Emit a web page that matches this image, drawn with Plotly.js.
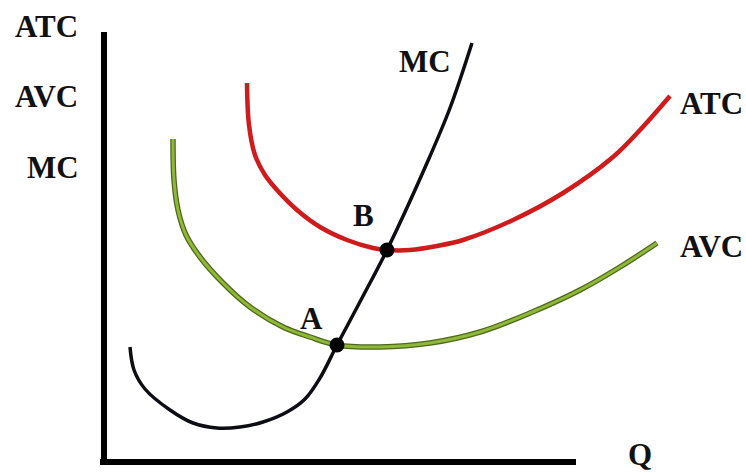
<!DOCTYPE html>
<html>
<head>
<meta charset="utf-8">
<script src="https://cdn.plot.ly/plotly-3.0.1.min.js"></script>
<style>html,body{margin:0;padding:0;background:#fff;}#chart{width:746px;height:474px;}</style>
</head>
<body>
<div id="chart"></div>
<script>
// Quantity (Q) and cost values (arbitrary units)
const mcQ   = [26, 30, 41, 66, 89, 113, 136, 159, 183, 201, 216, 233, 258, 283, 323, 346, 368];
const mcC   = [115, 92, 73, 52, 39, 34, 35, 40, 50, 63, 84, 117, 164, 212, 299, 354, 419];
const atcQ  = [143, 145, 151, 161, 173, 193, 216, 243, 269, 283, 306, 333, 359, 409, 459, 509, 536, 566];
const atcC  = [379, 337, 307, 287, 272, 252, 235, 222, 214, 212, 212, 216, 222, 242, 269, 305, 332, 366];
const avcQ  = [69, 70, 74, 82, 96, 119, 146, 179, 206, 233, 276, 326, 376, 426, 476, 516, 553];
const avcC  = [323, 282, 252, 227, 205, 179, 155, 135, 125, 117, 115, 119, 130, 149, 172, 195, 219];
const ptNames = ['A', 'B'];
const ptQ   = [233, 283];
const ptC   = [117, 212];
const axisLabels = ['ATC', 'AVC', 'MC'];
const curveLabels = ['MC', 'ATC', 'AVC'];
const xLabel = 'Q';

const font = {family: 'Liberation Serif, DejaVu Serif, serif', size: 31, color: '#111', weight: 'bold'};

const traces = [
  {x: avcQ, y: avcC, mode: 'lines', line: {color: '#4d6818', width: 5.5, shape: 'spline', smoothing: 1}, hoverinfo: 'skip'},
  {x: avcQ, y: avcC, mode: 'lines', line: {color: '#8fb83a', width: 3, shape: 'spline', smoothing: 1}, hoverinfo: 'skip'},
  {x: atcQ, y: atcC, mode: 'lines', line: {color: '#cf1b1b', width: 4.5, shape: 'spline', smoothing: 1}, hoverinfo: 'skip'},
  {x: mcQ, y: mcC, mode: 'lines', line: {color: '#0d0d14', width: 3.5, shape: 'spline', smoothing: 1}, hoverinfo: 'skip'},
  {x: ptQ, y: ptC, mode: 'markers', marker: {color: '#000', size: 15}, hoverinfo: 'skip'}
];

const ann = (x, y, text, xa, ya) => ({x, y, text, showarrow: false, font, xanchor: xa || 'center', yanchor: ya || 'middle'});

const annotations = [
  ann(-58, 436, axisLabels[0]),
  ann(-58, 366, axisLabels[1]),
  ann(-51, 295, axisLabels[2]),
  ann(321, 401, curveLabels[0]),
  ann(607, 359, curveLabels[1]),
  ann(607, 216, curveLabels[2]),
  ann(536, 8, xLabel),
  ann(207, 144, ptNames[0]),
  ann(259, 247, ptNames[1])
];

const layout = {
  width: 746, height: 474,
  margin: {l: 0, r: 0, t: 0, b: 0},
  paper_bgcolor: '#fff', plot_bgcolor: '#fff',
  showlegend: false,
  xaxis: {range: [-104, 642], visible: false, fixedrange: true},
  yaxis: {range: [-12, 462], visible: false, fixedrange: true},
  shapes: [
    {type: 'line', x0: 0, x1: 0, y0: -3, y1: 430, line: {color: '#000', width: 6}, layer: 'below'},
    {type: 'line', x0: -4, x1: 472, y0: 0, y1: 0, line: {color: '#000', width: 6}, layer: 'below'}
  ],
  annotations
};

Plotly.newPlot('chart', traces, layout, {displayModeBar: false, staticPlot: true});
</script>
</body>
</html>
